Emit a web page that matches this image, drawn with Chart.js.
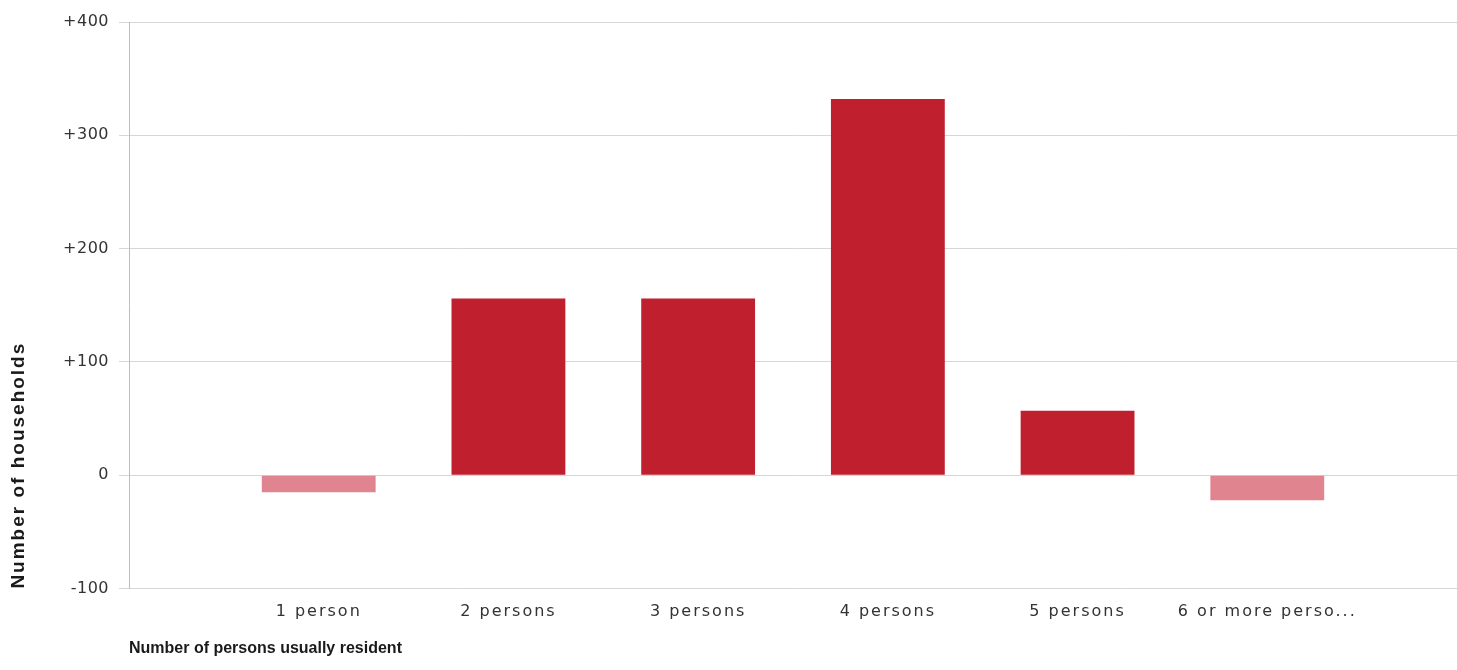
<!DOCTYPE html>
<html>
<head>
<meta charset="utf-8">
<script src="https://cdn.jsdelivr.net/npm/chart.js@4/dist/chart.umd.min.js"></script>
<style>
    html, body { margin: 0; padding: 0; background: #fff; }
    #wrap { width: 1457px; height: 670px; position: relative; }
</style>
</head>
<body>
<div id="wrap"><canvas id="householdChart"></canvas></div>
<script>
    const categories = ['1 person', '2 persons', '3 persons', '4 persons', '5 persons', '6 or more perso...'];
    const changeValues = [-15, 156, 156, 332, 57, -22];
    const yTicks = [-100, 0, 100, 200, 300, 400];

    const xTitle = 'Number of persons usually resident';
    const yTitle = 'Number of households';

    // blank slots at both ends so the bars sit on the tick lines like the original
    const labels = [''].concat(categories, ['']);
    const data = [null].concat(changeValues, [null]);

    // canvas letterSpacing per scale part (the source font is quite wide)
    const spacing = {
        x: { labels: '2px', title: '0px' },
        y: { labels: '0.5px', title: '2px' }
    };

    const letterSpacingPlugin = {
        id: 'letterSpacing',
        beforeDraw(chart) {
            ['x', 'y'].forEach(id => {
                const scale = chart.scales[id];
                if (!scale || scale._spaced) return;
                scale._spaced = true;
                [['drawLabels', 'labels'], ['drawTitle', 'title']].forEach(([fn, key]) => {
                    const orig = scale[fn];
                    scale[fn] = function (...args) {
                        const ctx = this.ctx;
                        const prev = ctx.letterSpacing;
                        ctx.letterSpacing = spacing[id][key];
                        orig.apply(this, args);
                        ctx.letterSpacing = prev || '0px';
                    };
                });
            });
        }
    };

    document.addEventListener('DOMContentLoaded', function () {
        const ctx = document.getElementById('householdChart').getContext('2d');

        new Chart(ctx, {
            type: 'bar',
            data: {
                labels: labels,
                datasets: [{
                    label: yTitle,
                    data: data,
                    backgroundColor: data.map(v => (v !== null && v < 0) ? '#e0848f' : '#c01f2d'),
                    borderWidth: 0,
                    barPercentage: 0.6,
                    categoryPercentage: 1
                }]
            },
            options: {
                responsive: true,
                maintainAspectRatio: false,
                animation: false,
                layout: { padding: { top: 22, right: -4, bottom: 12, left: 0 } },
                plugins: {
                    legend: { display: false },
                    tooltip: { enabled: false }
                },
                scales: {
                    x: {
                        offset: false,
                        afterFit: scale => {
                            scale.paddingLeft = 0;
                            scale.paddingRight = 0;
                        },
                        grid: { display: false, drawTicks: false },
                        border: { display: false },
                        ticks: {
                            autoSkip: false,
                            maxRotation: 0,
                            minRotation: 0,
                            padding: 14,
                            color: '#333',
                            font: { family: 'DejaVu Sans', size: 16 }
                        },
                        title: {
                            display: true,
                            text: xTitle,
                            align: 'start',
                            color: '#1a1a1a',
                            font: { family: 'Liberation Sans', size: 16, weight: 'bold' },
                            padding: { top: 3, bottom: 0 }
                        }
                    },
                    y: {
                        min: yTicks[0],
                        max: yTicks[yTicks.length - 1],
                        afterBuildTicks: scale => {
                            scale.ticks = yTicks.map(v => ({ value: v }));
                        },
                        afterFit: scale => { scale.width = 129; },
                        grid: { color: '#d6d6d6', tickLength: 10 },
                        border: { display: true, color: '#bdbdbd' },
                        ticks: {
                            padding: 10,
                            color: '#333',
                            font: { family: 'DejaVu Sans', size: 16 },
                            callback: v => v > 0 ? '+' + v : String(v)
                        },
                        title: {
                            display: true,
                            text: yTitle,
                            align: 'start',
                            color: '#1a1a1a',
                            font: { family: 'Liberation Sans', size: 19, weight: 'bold' },
                            padding: { top: 7, bottom: 0 }
                        }
                    }
                }
            },
            plugins: [letterSpacingPlugin]
        });
    });
</script>
</body>
</html>
